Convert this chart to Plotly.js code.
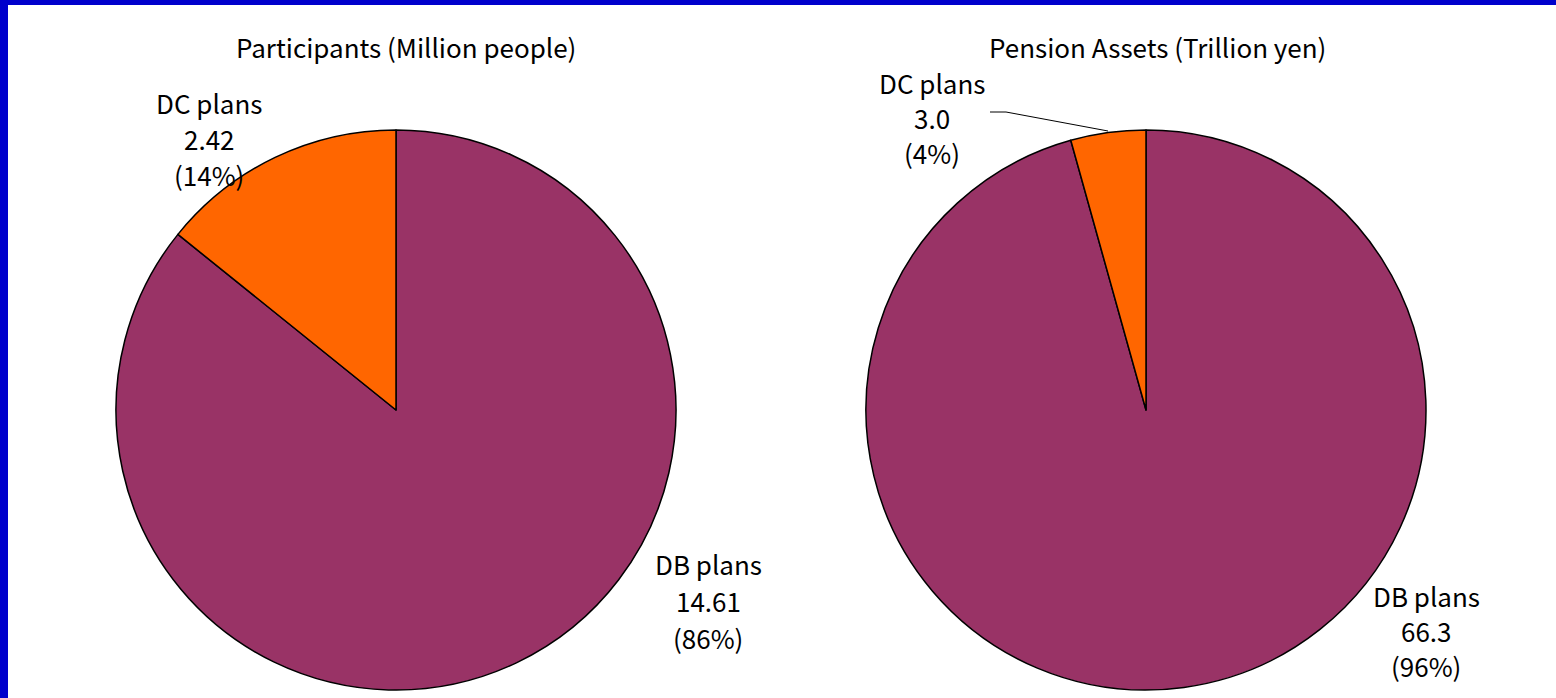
<!DOCTYPE html>
<html>
<head>
<meta charset="utf-8">
<script src="https://cdn.plot.ly/plotly-3.0.1.min.js"></script>
<style>
  html, body { margin: 0; padding: 0; background: #0000CC; overflow: hidden; }
  #chart { position: absolute; left: 8px; top: 5px; width: 1548px; height: 693px; background: #fff; }
</style>
</head>
<body>
<div id="chart"></div>
<script>
// Plan categories and values for the two pies
const planLabels = ['DC plans', 'DB plans'];
const participants = [2.42, 14.61];      // million people
const participantsText = ['2.42', '14.61'];
const assets = [3.0, 66.3];              // trillion yen
const assetsText = ['3.0', '66.3'];
const pieTitles = ['Participants (Million people)', 'Pension Assets (Trillion yen)'];
const planColors = ['#FF6600', '#993366'];

const W = 1548, H = 693, OX = 8, OY = 5;
// page pixel -> paper fraction
const px = x => (x - OX) / W;
const py = y => 1 - (y - OY) / H;

const FONT = '"Noto Sans CJK JP", "Noto Sans", sans-serif';

// DB is drawn first, clockwise from 12 o'clock, so DC ends up just left of the top
function pieTrace(values, x0, x1) {
  const order = [1, 0];
  return {
    type: 'pie',
    labels: order.map(i => planLabels[i]),
    values: order.map(i => values[i]),
    sort: false,
    direction: 'clockwise',
    rotation: 0,
    textinfo: 'none',
    hoverinfo: 'label+value+percent',
    marker: { colors: order.map(i => planColors[i]), line: { color: '#000', width: 1.5 } },
    domain: { x: [px(x0), px(x1)], y: [py(690), py(130)] },
    showlegend: false
  };
}

const data = [
  pieTrace(participants, 116, 676),
  pieTrace(assets, 866, 1426)
];

function pct(values, i) {
  const total = values.reduce((a, b) => a + b, 0);
  return Math.round(values[i] / total * 100) + '%';
}

const annotations = [];
function textLine(text, x, y, size) {
  annotations.push({
    text: text, xref: 'paper', yref: 'paper', x: px(x), y: py(y),
    xanchor: 'center', yanchor: 'middle', showarrow: false,
    font: { family: FONT, size: size || 26, color: '#000' }
  });
}
function label(values, texts, i, x, y0, step) {
  textLine(planLabels[i], x, y0);
  textLine(texts[i], x, y0 + step);
  textLine('(' + pct(values, i) + ')', x, y0 + 2 * step);
}

textLine(pieTitles[0], 406, 46);
textLine(pieTitles[1], 1157, 46);
label(participants, participantsText, 0, 209, 102, 36);
label(participants, participantsText, 1, 708, 563, 37);
label(assets, assetsText, 0, 932, 82, 35);
label(assets, assetsText, 1, 1426, 595, 35);

const layout = {
  width: W, height: H,
  margin: { l: 0, r: 0, t: 0, b: 0 },
  paper_bgcolor: '#ffffff',
  annotations: annotations,
  shapes: [{
    type: 'path', xref: 'paper', yref: 'paper',
    path: `M ${px(990)} ${py(112)} L ${px(1006)} ${py(112)} L ${px(1108)} ${py(131)}`,
    line: { color: '#000', width: 1 }
  }]
};

Plotly.newPlot('chart', data, layout, { displayModeBar: false, staticPlot: true });
</script>
</body>
</html>
